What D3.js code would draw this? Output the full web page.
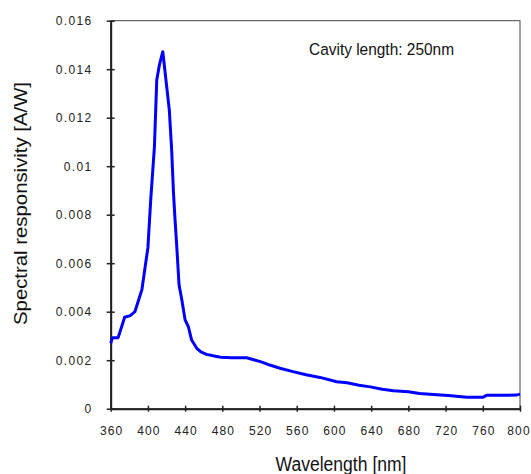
<!DOCTYPE html>
<html>
<head>
<meta charset="utf-8">
<title></title>
<style>
  body { margin: 0; background: #fff; }
  svg { display: block; font-family: "Liberation Sans", Arial, sans-serif; }
</style>
</head>
<body>
<script src="https://cdn.jsdelivr.net/npm/d3@7"></script>
<script>
// data
var wavelength = [360, 362, 368, 375, 381, 386, 390, 393.5, 400, 403, 405, 407, 409.5, 412.5, 416, 423, 425.5, 427.5, 429, 431, 433.5, 436.5, 440, 443.5, 447, 452.5, 457, 463, 470, 478, 490, 506, 521, 531, 542, 556, 570, 585, 603, 614, 627, 639, 652, 664, 680, 692, 707, 723, 743, 760, 764, 780, 796, 800];
var responsivity = [0.0027, 0.00293, 0.00293, 0.00377, 0.00384, 0.0040, 0.00448, 0.0049, 0.00664, 0.0086, 0.0097, 0.0108, 0.01355, 0.0142, 0.01472, 0.01232, 0.0107, 0.0089, 0.0079, 0.0067, 0.0051, 0.00448, 0.00366, 0.00338, 0.00283, 0.00249, 0.00234, 0.00224, 0.00218, 0.00212, 0.0021, 0.0021, 0.00194, 0.0018, 0.00167, 0.00153, 0.0014, 0.00129, 0.00111, 0.00107, 0.00097, 0.0009, 0.0008, 0.00074, 0.0007, 0.00063, 0.00059, 0.00054, 0.00047, 0.00047, 0.00055, 0.00055, 0.00056, 0.0006];
var xTicks = [360, 400, 440, 480, 520, 560, 600, 640, 680, 720, 760, 800];
var yTicks = [0, 0.002, 0.004, 0.006, 0.008, 0.01, 0.012, 0.014, 0.016];
var yTickLabels = ["0", "0.002", "0.004", "0.006", "0.008", "0.01", "0.012", "0.014", "0.016"];

var width = 531;
var height = 474;
var margin = {top: 20.7, right: 11, bottom: 65.3, left: 110.7};

var svg = d3.select("body").append("svg")
    .attr("width", width)
    .attr("height", height);

var x = d3.scaleLinear()
    .domain([360, 800])
    .range([margin.left, width - margin.right]);

var y = d3.scaleLinear()
    .domain([0, 0.016])
    .range([height - margin.bottom, margin.top]);

// frame (top + right)
svg.append("rect")
    .attr("x", x(360))
    .attr("y", y(0.016))
    .attr("width", x(800) - x(360))
    .attr("height", y(0) - y(0.016))
    .attr("fill", "none")
    .attr("stroke", "#444")
    .attr("stroke-width", 1);

var xAxis = svg.append("g")
    .attr("transform", `translate(0,${y(0)})`)
    .call(d3.axisBottom(x).tickValues(xTicks).tickSizeInner(5).tickSizeOuter(0).tickPadding(13));
xAxis.select(".domain").attr("stroke", "#222").attr("stroke-width", 2);
xAxis.selectAll(".tick line").attr("y1", -3).attr("y2", 3).attr("stroke", "#222").attr("stroke-width", 1.5);
xAxis.selectAll(".tick text")
    .attr("font-size", 12)
    .attr("fill", "#222")
    .attr("font-family", "Liberation Sans, Arial, sans-serif")
    .style("letter-spacing", "1.1px")
    .attr("dx", d => d === 800 ? "-1.5px" : "0.5px");

var yAxis = svg.append("g")
    .attr("transform", `translate(${x(360)},0)`)
    .call(d3.axisLeft(y).tickValues(yTicks).tickFormat((d, i) => yTickLabels[i]).tickSizeOuter(0).tickPadding(12));
yAxis.select(".domain").attr("stroke", "#222").attr("stroke-width", 2);
yAxis.selectAll(".tick line").attr("x1", -4).attr("x2", 4).attr("stroke", "#222").attr("stroke-width", 1.5);
yAxis.selectAll(".tick text")
    .attr("font-size", 12)
    .attr("fill", "#222")
    .attr("font-family", "Liberation Sans, Arial, sans-serif")
    .style("letter-spacing", "1.4px");

var line = d3.line()
    .x((d, i) => x(wavelength[i]))
    .y(d => y(d));

svg.append("path")
    .datum(responsivity)
    .attr("fill", "none")
    .attr("stroke", "#0000ff")
    .attr("stroke-width", 3)
    .attr("stroke-linejoin", "round")
    .attr("d", line);

// labels
svg.append("text")
    .attr("x", 341)
    .attr("y", 470.5)
    .attr("text-anchor", "middle")
    .attr("font-size", 19.5)
    .attr("fill", "#111")
    .attr("textLength", 131)
    .attr("lengthAdjust", "spacingAndGlyphs")
    .text("Wavelength [nm]");

svg.append("text")
    .attr("transform", "translate(27,203.5) rotate(-90)")
    .attr("text-anchor", "middle")
    .attr("font-size", 18.5)
    .attr("fill", "#111")
    .attr("textLength", 243)
    .attr("lengthAdjust", "spacingAndGlyphs")
    .text("Spectral responsivity [A/W]");

svg.append("text")
    .attr("x", 309)
    .attr("y", 55)
    .attr("font-size", 16.3)
    .attr("fill", "#111")
    .attr("textLength", 145)
    .attr("lengthAdjust", "spacingAndGlyphs")
    .text("Cavity length: 250nm");
</script>
</body>
</html>
